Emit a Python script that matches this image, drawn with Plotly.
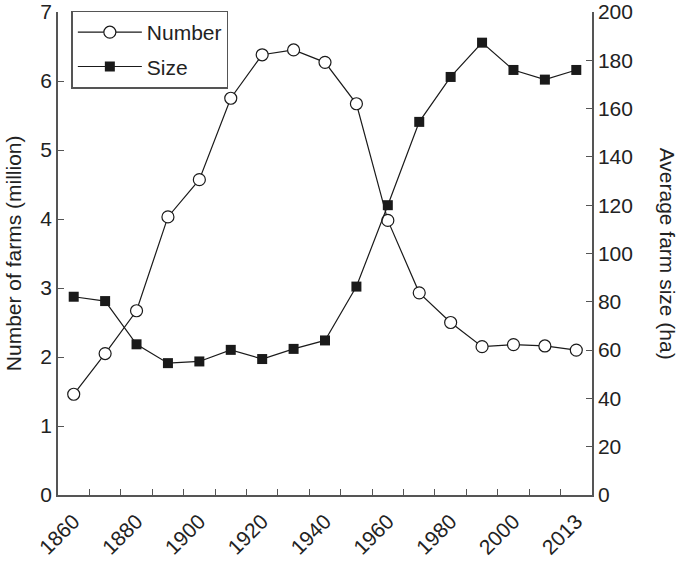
import plotly.graph_objects as go

# census years (evenly spaced categories on the chart)
years = ["1860", "1870", "1880", "1890", "1900", "1910", "1920", "1930", "1940",
         "1950", "1960", "1970", "1980", "1990", "2000", "2007", "2013"]
tick_labels = ["1860", "", "1880", "", "1900", "", "1920", "", "1940",
               "", "1960", "", "1980", "", "2000", "", "2013"]

# number of farms (million)
farm_number = [1.46, 2.05, 2.67, 4.03, 4.57, 5.75, 6.38, 6.45, 6.27,
               5.67, 3.98, 2.93, 2.50, 2.15, 2.18, 2.16, 2.10]
# average farm size (ha)
farm_size = [82.1, 80.3, 62.4, 54.6, 55.3, 60.1, 56.3, 60.5, 64.0,
             86.3, 120.0, 154.5, 173.1, 187.3, 176.0, 172.0, 176.0]

font = "Arial, Liberation Sans, sans-serif"
axis_col = "#555555"

fig = go.Figure()
fig.add_trace(go.Scatter(
    x=years, y=farm_number, name="Number", mode="lines+markers",
    line=dict(color="#1a1a1a", width=1.2),
    marker=dict(symbol="circle", size=12, color="white",
                line=dict(color="#1a1a1a", width=1.2)),
    legendgroup="a",
))
fig.add_trace(go.Scatter(
    x=years, y=farm_size, name="Size", mode="lines+markers", yaxis="y2",
    line=dict(color="#1a1a1a", width=1.2),
    marker=dict(symbol="square", size=10, color="#1a1a1a"),
    legendgroup="b",
))

fig.update_layout(
    width=680, height=561,
    margin=dict(l=58, r=88, t=12, b=66, autoexpand=False),
    paper_bgcolor="white", plot_bgcolor="white",
    font=dict(family=font, size=21, color="#222222"),
    showlegend=True,
    legend=dict(x=0.025, y=1.003, xanchor="left", yanchor="top",
                bordercolor=axis_col, borderwidth=1.5, bgcolor="white",
                font=dict(size=21), tracegroupgap=4, itemwidth=64,
                traceorder="grouped"),
    xaxis=dict(type="category", tickson="boundaries", tickmode="array",
               tickvals=years, ticktext=tick_labels, tickangle=-45,
               ticks="inside", ticklen=6, tickcolor=axis_col,
               ticklabelstandoff=4,
               showline=True, linecolor=axis_col, linewidth=1.5,
               showgrid=False, zeroline=False, range=[-0.5, 16.5],
               automargin=False),
    yaxis=dict(range=[0, 7], dtick=1, ticks="inside", ticklen=6,
               tickcolor=axis_col, showline=True, linecolor=axis_col,
               linewidth=1.5, showgrid=False, zeroline=False,
               automargin=False),
    yaxis2=dict(range=[0, 200], dtick=20, overlaying="y", side="right",
                ticks="inside", ticklen=6, tickcolor=axis_col,
                showline=True, linecolor=axis_col, linewidth=1.5,
                showgrid=False, zeroline=False, automargin=False),
    annotations=[
        dict(text="Number of farms (million)", xref="paper", yref="paper",
             x=-0.083, y=0.5, textangle=-90, showarrow=False,
             xanchor="center", yanchor="middle", font=dict(size=21)),
        dict(text="Average farm size (ha)", xref="paper", yref="paper",
             x=1.142, y=0.5, textangle=90, showarrow=False,
             xanchor="center", yanchor="middle", font=dict(size=21)),
    ],
)

# drop the page's default body margin so the figure sits at the window corner
fig.write_html("out.html", config={"displayModeBar": False},
               post_script="document.body.style.margin='0';")
